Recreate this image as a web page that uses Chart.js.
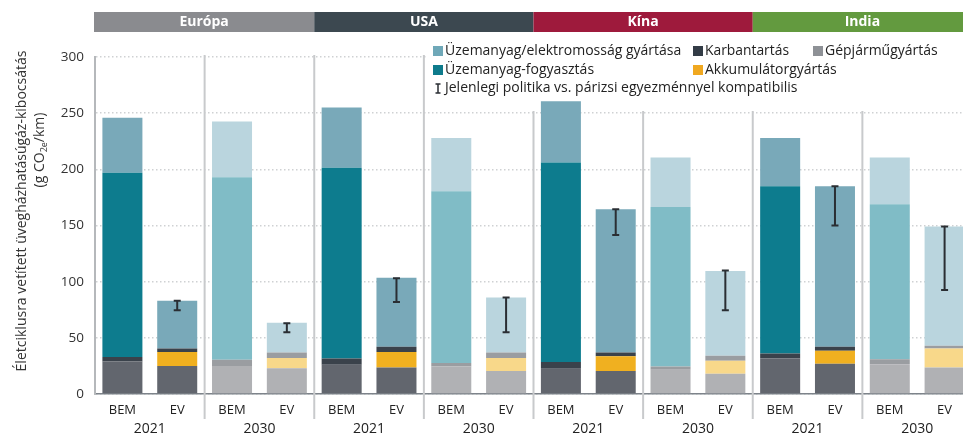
<!DOCTYPE html>
<html><head><meta charset="utf-8">
<script src="https://cdn.jsdelivr.net/npm/chart.js@4.4.1/dist/chart.umd.min.js"></script>
<style>
html,body{margin:0;padding:0;background:#fff;overflow:hidden;width:963px;height:435px}
#wrap{position:relative;width:975px;height:435px}
</style></head>
<body><div id="wrap"><canvas id="c" width="975" height="435"></canvas></div>
<script>
// ---- data ----
const categories = ['BEM','EV','BEM','EV','BEM','EV','BEM','EV','BEM','EV','BEM','EV','BEM','EV','BEM','EV'];
const years = ['2021','2030','2021','2030','2021','2030','2021','2030'];
const regions = ['Európa','USA','Kína','India'];
const yTicks = [0,50,100,150,200,250,300];

const vehicleMfg     = [29, 25, 25, 23, 26, 23.5, 24.5, 20.5, 22.5, 20.5, 21.5, 18, 31.5, 27, 26.5, 23.5];
const batteryMfg     = [0, 12.5, 0, 9, 0, 14, 0, 11.5, 0, 13, 0, 11.5, 0, 11.5, 0, 17];
const maintenance    = [4, 3, 5.5, 5, 5.5, 4.5, 3, 5, 6, 3.5, 3, 4.5, 4.5, 3.5, 4.5, 2.5];
const fuelUse        = [164, 0, 162.5, 0, 170, 0, 153, 0, 177.5, 0, 142, 0, 149, 0, 138, 0];
const fuelProduction = [49, 42.5, 49.5, 26.5, 53.5, 61.5, 47.5, 49, 54.5, 127.5, 44, 75.5, 43, 143, 41.5, 106];
const policyLow  = [null, 74.5, null, 55, null, 82, null, 55, null, 141.5, null, 74.5, null, 150, null, 92.5];
const policyHigh = [null, 83, null, 63, null, 103, null, 86, null, 164.5, null, 110, null, 185, null, 149];

const legendLabels = {
  prod: 'Üzemanyag/elektromosság gyártása',
  maint: 'Karbantartás',
  veh: 'Gépjárműgyártás',
  use: 'Üzemanyag-fogyasztás',
  batt: 'Akkumulátorgyártás',
  err: 'Jelenlegi politika vs. párizsi egyezménnyel kompatibilis'
};
const yTitle1 = 'Életciklusra vetített üvegházhatásúgáz-kibocsátás';

// ---- styles ----
const FONT = '"Open Sans", "Noto Sans", sans-serif';
const C21 = {veh:'#62666e', batt:'#f0b020', maint:'#3a424b', use:'#0d7c8e', prod:'#79a9b9'};
const C30 = {veh:'#b0b1b4', batt:'#f8d88a', maint:'#9a9da1', use:'#80bcc6', prod:'#bad5de'};
const headerColors = ['#8a8b8f','#3c4850','#9e1a3c','#639a3f'];
const is2030 = i => Math.floor(i/2) % 2 === 1;
const colors = key => categories.map((_, i) => is2030(i) ? C30[key] : C21[key]);

const mk = (label, data, key) => ({label, data, backgroundColor: colors(key), borderWidth: 0,
  barPercentage: 0.73, categoryPercentage: 1});

const decor = {
  id: 'decor',
  beforeDatasetsDraw(chart) {
    const {ctx, chartArea: a, scales: {x}} = chart;
    const seps = [];
    for (let g = 1; g < 8; g++) seps.push((x.getPixelForValue(2*g-1) + x.getPixelForValue(2*g)) / 2);
    ctx.save();
    ctx.strokeStyle = '#c8cacc'; ctx.lineWidth = 2;
    seps.forEach(s => { ctx.beginPath(); ctx.moveTo(s, a.top - 2); ctx.lineTo(s, a.bottom + 25); ctx.stroke(); });
    // legend background
    ctx.fillStyle = '#fff';
    ctx.fillRect(427, 38, 560, 73);
    // header bars
    for (let r = 0; r < 4; r++) {
      const l = r === 0 ? a.left - 1 : seps[2*r-1];
      const rr = r === 3 ? a.right : seps[2*r+1];
      ctx.fillStyle = headerColors[r];
      ctx.fillRect(l, 12, rr - l, 20);
      ctx.fillStyle = '#fff';
      ctx.font = 'bold 14px ' + FONT;
      ctx.textAlign = 'center'; ctx.textBaseline = 'middle';
      ctx.fillText(regions[r], (l + rr) / 2, 22.5);
    }
    ctx.restore();
  },
  afterDatasetsDraw(chart) {
    const {ctx, scales: {x, y}} = chart;
    ctx.save();
    // error bars
    ctx.strokeStyle = '#2a2e33'; ctx.lineWidth = 2;
    categories.forEach((_, i) => {
      if (policyLow[i] == null) return;
      const px = x.getPixelForValue(i);
      const y1 = y.getPixelForValue(policyHigh[i]);
      const y2 = y.getPixelForValue(policyLow[i]);
      ctx.beginPath();
      ctx.moveTo(px, y1); ctx.lineTo(px, y2);
      ctx.moveTo(px - 3.5, y1); ctx.lineTo(px + 3.5, y1);
      ctx.moveTo(px - 3.5, y2); ctx.lineTo(px + 3.5, y2);
      ctx.stroke();
    });
    // legend
    ctx.font = '14px ' + FONT;
    ctx.textBaseline = 'middle'; ctx.textAlign = 'left';
    const item = (sx, sy, col, text, w) => {
      ctx.fillStyle = col; ctx.fillRect(sx, sy - 5, 10, 10);
      ctx.fillStyle = '#222'; ctx.fillText(text, sx + 12, sy, w);
    };
    item(433, 51, '#6fa8b8', legendLabels.prod, 241);
    item(693, 51, '#333c46', legendLabels.maint, 84);
    item(813, 51, '#8e9196', legendLabels.veh, 116);
    item(433, 70, '#0e7b8c', legendLabels.use, 153);
    item(693, 70, '#f0a820', legendLabels.batt, 134);
    ctx.strokeStyle = '#2a2e33'; ctx.lineWidth = 1.5;
    ctx.beginPath();
    ctx.moveTo(438, 84); ctx.lineTo(438, 93);
    ctx.moveTo(435.5, 84); ctx.lineTo(440.5, 84);
    ctx.moveTo(435.5, 93); ctx.lineTo(440.5, 93);
    ctx.stroke();
    ctx.fillStyle = '#222'; ctx.fillText(legendLabels.err, 445, 88.5, 364);
    // y title
    ctx.translate(22, 211); ctx.rotate(-Math.PI / 2);
    ctx.textAlign = 'center'; ctx.fillStyle = '#333';
    ctx.font = '14px ' + FONT;
    ctx.fillText(yTitle1, 0, 0, 323);
    ctx.restore();
    ctx.save();
    ctx.translate(40, 150); ctx.rotate(-Math.PI / 2);
    ctx.textBaseline = 'middle'; ctx.fillStyle = '#333';
    const p1 = '(g CO', p2 = '2e', p3 = '/km)';
    ctx.font = '14px ' + FONT;
    const w1 = ctx.measureText(p1).width, w3 = ctx.measureText(p3).width;
    ctx.font = '9px ' + FONT;
    const w2 = ctx.measureText(p2).width;
    let sx = -(w1 + w2 + w3) / 2;
    ctx.font = '14px ' + FONT; ctx.textAlign = 'left';
    ctx.fillText(p1, sx, 0); sx += w1;
    ctx.font = '9px ' + FONT; ctx.fillText(p2, sx, 4); sx += w2;
    ctx.font = '14px ' + FONT; ctx.fillText(p3, sx, 0);
    ctx.restore();
  }
};

new Chart(document.getElementById('c'), {
  type: 'bar',
  data: {
    labels: categories,
    datasets: [
      mk(legendLabels.veh, vehicleMfg, 'veh'),
      mk(legendLabels.batt, batteryMfg, 'batt'),
      mk(legendLabels.maint, maintenance, 'maint'),
      mk(legendLabels.use, fuelUse, 'use'),
      mk(legendLabels.prod, fuelProduction, 'prod')
    ]
  },
  options: {
    responsive: false, animation: false,
    layout: {padding: {top: 57, right: 3, left: 0, bottom: 0}},
    plugins: {legend: {display: false}, tooltip: {enabled: false}},
    scales: {
      x: {
        stacked: true, offset: true,
        grid: {display: false, drawTicks: false, tickLength: 0},
        border: {display: true, color: '#7d838a', width: 1.5},
        ticks: {color: '#222', font: {family: FONT, size: 13}, padding: 8, maxRotation: 0, autoSkip: false},
        afterFit: s => { s.height = 22; }
      },
      x2: {
        type: 'category', labels: years, position: 'bottom', offset: true,
        grid: {display: false, drawTicks: false, tickLength: 0}, border: {display: false},
        ticks: {color: '#222', font: {family: FONT, size: 14}, padding: 5, maxRotation: 0, autoSkip: false},
        afterFit: s => { s.height = 19; }
      },
      y: {
        stacked: true, min: 0, max: 300,
        afterBuildTicks: s => { s.ticks = yTicks.map(v => ({value: v})); },
        ticks: {color: '#333', font: {family: FONT, size: 13.5}, padding: 11},
        grid: {color: '#cfd1d3', lineWidth: 1.5, drawTicks: false},
        border: {display: true, color: '#b5b8bb', width: 2, dash: [1.5, 2.5]},
        afterFit: s => { s.width = 95; }
      }
    }
  },
  plugins: [decor]
});
</script></body></html>
